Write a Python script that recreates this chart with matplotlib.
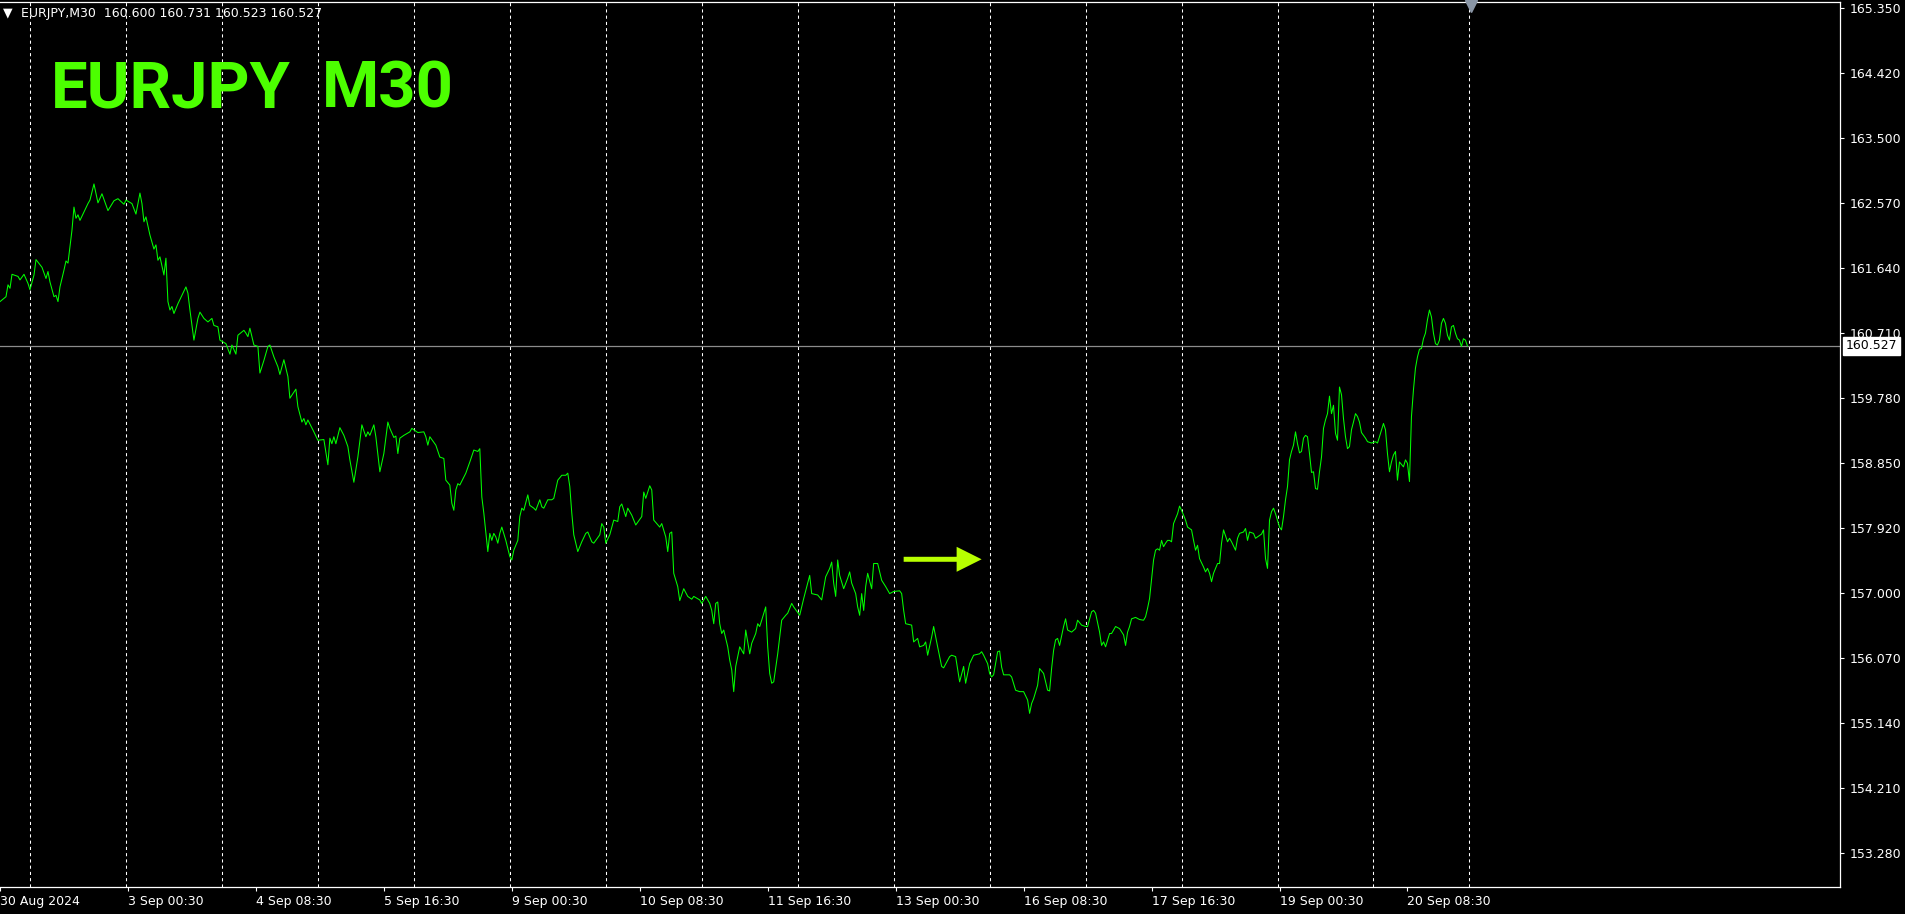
import matplotlib
matplotlib.use("Agg")
import matplotlib.pyplot as plt
from matplotlib.transforms import blended_transform_factory

symbol = "EURJPY"
timeframe = "M30"
last_ohlc = [160.600, 160.731, 160.523, 160.527]
last_price = 160.527

# M30 bar number counted from Mon 2 Sep 2024 00:00 (weekends skipped), close
bars_wk1 = [
    -15, -12, -11, -10, -9, -6, -5, -3, -1, 0,
    2, 3, 6, 8, 9, 10, 12, 13, 14, 15,
    17, 18, 19, 20, 21, 22, 23, 24, 25, 27,
    29, 30, 32, 34, 36, 39, 42, 44, 47, 48,
    51, 53, 55, 56, 57, 58, 60, 62, 63, 64,
    65, 67, 68, 69, 70, 71, 72, 74, 78, 79,
    80, 82, 84, 85, 87, 89, 91, 92, 94, 95,
    98, 100, 101, 103, 104, 107, 108, 109, 110, 112,
    114, 115, 117, 119, 120, 122, 124, 125, 127, 129,
    130, 133, 134, 136, 137, 138, 139, 142, 144, 147,
    149, 150, 151, 152, 153, 155, 157, 159, 160, 162,
    164, 166, 168, 169, 170, 172, 173, 175, 177, 179,
    180, 182, 183, 184, 185, 187, 190, 191, 194, 197,
    198, 199, 200, 203, 205, 207, 208, 210, 211, 212,
    213, 214, 215, 218, 220, 222, 224, 225, 226, 227,
    228, 229, 230, 231, 232, 233, 234, 235, 236, 238,
]
close_wk1 = [
    161.16, 161.23, 161.40, 161.35, 161.55, 161.52, 161.47, 161.55, 161.42, 161.33,
    161.54, 161.76, 161.65, 161.49, 161.59, 161.44, 161.23, 161.25, 161.16, 161.37,
    161.61, 161.74, 161.71, 161.94, 162.18, 162.51, 162.35, 162.40, 162.32, 162.44,
    162.56, 162.61, 162.84, 162.57, 162.70, 162.46, 162.60, 162.63, 162.55, 162.61,
    162.56, 162.41, 162.71, 162.56, 162.30, 162.37, 162.11, 161.91, 161.97, 161.75,
    161.80, 161.54, 161.78, 161.16, 161.04, 161.09, 160.99, 161.13, 161.37, 161.28,
    161.04, 160.61, 160.92, 161.01, 160.92, 160.87, 160.92, 160.82, 160.80, 160.61,
    160.56, 160.41, 160.54, 160.41, 160.68, 160.75, 160.71, 160.66, 160.78, 160.54,
    160.52, 160.14, 160.32, 160.52, 160.54, 160.37, 160.23, 160.12, 160.33, 160.09,
    159.78, 159.91, 159.66, 159.44, 159.49, 159.40, 159.47, 159.30, 159.18, 159.19,
    158.83, 159.21, 159.13, 159.23, 159.13, 159.36, 159.25, 159.09, 158.90, 158.58,
    158.94, 159.40, 159.23, 159.30, 159.25, 159.40, 159.23, 158.73, 158.99, 159.44,
    159.35, 159.22, 159.24, 158.99, 159.21, 159.25, 159.30, 159.35, 159.29, 159.30,
    159.23, 159.11, 159.23, 159.11, 158.94, 158.92, 158.61, 158.54, 158.28, 158.18,
    158.47, 158.56, 158.54, 158.71, 158.87, 159.04, 159.02, 159.06, 158.37, 158.14,
    157.87, 157.59, 157.85, 157.75, 157.85, 157.80, 157.71, 157.85, 157.94, 157.75,
]

bars_wk2 = [
    240, 241, 242, 244, 245, 246, 247, 249, 250, 252,
    253, 255, 256, 257, 259, 261, 262, 264, 266, 268,
    269, 270, 271, 272, 274, 276, 278, 279, 281, 282,
    285, 286, 287, 288, 290, 292, 294, 295, 296, 298,
    299, 301, 303, 306, 307, 308, 310, 311, 312, 315,
    316, 318, 319, 320, 321, 322, 324, 325, 327, 329,
    331, 332, 335, 336, 338, 340, 341, 342, 343, 344,
    345, 346, 347, 349, 350, 351, 352, 353, 354, 355,
    357, 358, 360, 361, 363, 364, 365, 366, 368, 369,
    370, 371, 372, 374, 376, 378, 379, 381, 382, 385,
    387, 389, 390, 391, 394, 396, 398, 400, 401, 402,
    403, 404, 405, 407, 409, 410, 411, 413, 414, 415,
    416, 417, 418, 419, 421, 422, 424, 426, 428, 430,
    432, 435, 436, 437, 438, 441, 442, 444, 445, 447,
    448, 449, 451, 452, 454, 456, 457, 460, 461, 463,
    465, 467, 468, 470, 472, 475, 476, 477, 479,
]
close_wk2 = [
    157.52, 157.47, 157.61, 157.75, 158.09, 158.21, 158.18, 158.40, 158.25, 158.21,
    158.18, 158.33, 158.23, 158.21, 158.33, 158.33, 158.35, 158.61, 158.68, 158.68,
    158.71, 158.52, 158.14, 157.83, 157.59, 157.73, 157.85, 157.87, 157.73, 157.71,
    157.83, 157.99, 157.94, 157.71, 157.83, 158.04, 158.02, 158.23, 158.27, 158.09,
    158.21, 158.11, 157.97, 158.09, 158.44, 158.35, 158.53, 158.47, 158.04, 157.94,
    157.99, 157.80, 157.59, 157.85, 157.87, 157.28, 157.09, 156.89, 157.06, 156.95,
    156.91, 156.95, 156.90, 156.85, 156.95, 156.85, 156.75, 156.56, 156.85, 156.87,
    156.56, 156.42, 156.47, 156.23, 156.04, 155.90, 155.59, 155.95, 156.09, 156.23,
    156.13, 156.47, 156.13, 156.28, 156.42, 156.56, 156.52, 156.61, 156.80, 156.23,
    155.85, 155.71, 155.73, 156.13, 156.61, 156.68, 156.71, 156.85, 156.80, 156.68,
    156.92, 157.14, 157.25, 156.99, 156.97, 156.90, 157.23, 157.35, 157.44, 157.14,
    156.95, 157.47, 157.25, 157.06, 157.21, 157.30, 157.14, 156.99, 156.80, 156.68,
    156.99, 156.75, 157.09, 157.28, 157.06, 157.42, 157.42, 157.18, 157.09, 156.99,
    157.02, 157.03, 156.99, 156.75, 156.56, 156.54, 156.30, 156.35, 156.23, 156.25,
    156.30, 156.11, 156.37, 156.52, 156.23, 155.95, 155.93, 156.09, 156.11, 156.09,
    155.73, 155.95, 155.71, 155.99, 156.11, 156.13, 156.16, 156.11, 155.99,
]

bars_wk3 = [
    480, 481, 482, 484, 485, 486, 487, 489, 490,
    491, 493, 495, 497, 499, 500, 501, 502, 504, 505,
    507, 509, 510, 511, 512, 513, 514, 515, 517, 518,
    519, 521, 523, 524, 526, 528, 529, 531, 532, 533,
    535, 536, 537, 538, 540, 541, 543, 545, 547, 548,
    549, 550, 551, 553, 555, 557, 558, 559, 560, 561,
    562, 563, 564, 565, 566, 567, 568, 569, 570, 571,
    572, 574, 575, 576, 578, 579, 581, 582, 583, 584,
    585, 587, 588, 589, 590, 591, 592, 594, 595, 596,
    597, 599, 600, 601, 603, 604, 605, 607, 608, 609,
    610, 612, 613, 614, 616, 617, 618, 619, 620, 621,
    622, 623, 625, 626, 627, 628, 629, 630, 631, 632,
    633, 634, 635, 636, 637, 638, 639, 640, 641, 642,
    643, 644, 645, 646, 647, 648, 649, 650, 651, 652,
    653, 654, 655, 656, 657, 658, 659, 660, 661, 662,
    663, 664, 665, 666, 668, 669, 671, 673, 674, 675,
    677, 678, 679, 680, 681, 682, 683, 684, 685, 687,
    688, 689, 690, 691, 692, 693, 694, 695, 696, 697,
    698, 699, 700, 701, 702, 703, 704, 705, 706, 707,
    708, 709, 710, 711, 712, 713, 714, 715, 716, 717,
    718, 719,
]
close_wk3 = [
    155.85, 155.80, 155.83, 156.16, 156.17, 155.94, 155.83, 155.83, 155.83,
    155.80, 155.61, 155.59, 155.59, 155.47, 155.28, 155.42, 155.49, 155.68, 155.92,
    155.85, 155.61, 155.60, 155.92, 156.18, 156.33, 156.35, 156.25, 156.52, 156.63,
    156.47, 156.44, 156.49, 156.61, 156.54, 156.52, 156.52, 156.73, 156.75, 156.71,
    156.44, 156.25, 156.30, 156.23, 156.42, 156.42, 156.52, 156.49, 156.40, 156.25,
    156.44, 156.52, 156.63, 156.65, 156.62, 156.61, 156.66, 156.78, 156.92, 157.20,
    157.47, 157.61, 157.63, 157.61, 157.75, 157.66, 157.71, 157.75, 157.75, 157.73,
    157.99, 158.13, 158.24, 158.18, 158.04, 157.94, 157.90, 157.75, 157.61, 157.68,
    157.49, 157.37, 157.30, 157.35, 157.28, 157.16, 157.28, 157.42, 157.42, 157.71,
    157.90, 157.73, 157.78, 157.73, 157.61, 157.78, 157.85, 157.87, 157.92, 157.75,
    157.87, 157.85, 157.78, 157.80, 157.84, 157.90, 157.49, 157.35, 158.04, 158.16,
    158.21, 158.13, 157.94, 157.90, 158.09, 158.33, 158.52, 158.90, 159.02, 159.11,
    159.30, 159.13, 159.00, 159.02, 159.21, 159.25, 159.23, 158.99, 158.72, 158.73,
    158.49, 158.48, 158.73, 158.94, 159.35, 159.47, 159.56, 159.81, 159.56, 159.68,
    159.28, 159.18, 159.94, 159.83, 159.49, 159.23, 159.06, 159.09, 159.33, 159.44,
    159.56, 159.52, 159.44, 159.29, 159.21, 159.16, 159.14, 159.16, 159.14, 159.23,
    159.42, 159.33, 158.99, 158.73, 158.87, 158.97, 159.02, 158.61, 158.87, 158.80,
    158.90, 158.85, 158.59, 159.52, 159.90, 160.21, 160.37, 160.48, 160.49, 160.63,
    160.71, 160.90, 161.04, 160.94, 160.71, 160.56, 160.54, 160.61, 160.85, 160.92,
    160.85, 160.68, 160.61, 160.80, 160.82, 160.71, 160.63, 160.61, 160.52, 160.63,
    160.61, 160.527,
]

assert len(bars_wk1) == len(close_wk1)
assert len(bars_wk2) == len(close_wk2)
assert len(bars_wk3) == len(close_wk3)

# day separators (one per trading day, 48 bars each) and time labels every 64 bars
day_starts = list(range(0, 721, 48))
label_bars = [-15 + 64 * k for k in range(12)]
label_text = ["30 Aug 2024", "3 Sep 00:30", "4 Sep 08:30", "5 Sep 16:30",
              "9 Sep 00:30", "10 Sep 08:30", "11 Sep 16:30", "13 Sep 00:30",
              "16 Sep 08:30", "17 Sep 16:30", "19 Sep 00:30", "20 Sep 08:30"]
price_ticks = [153.280, 154.210, 155.140, 156.070, 157.000, 157.920, 158.850,
               159.780, 160.710, 161.640, 162.570, 163.500, 164.420, 165.350]

# arrow object placed on the chart
arrow_from_bar, arrow_to_bar, arrow_price = 437, 476, 157.48

bars = bars_wk1 + bars_wk2 + bars_wk3
close = close_wk1 + close_wk2 + close_wk3

W, H = 1906, 914
fig = plt.figure(figsize=(W / 100, H / 100), dpi=100, facecolor="black")
ax = fig.add_axes([0, 27 / H, 1840 / W, 885.3 / H], facecolor="black")

for d in day_starts:
    ax.axvline(d, color="white", lw=0.75, ls=(0, (3, 3)), zorder=1)
ax.axhline(last_price, color="#8c8c8c", lw=0.9, zorder=1.5)
ax.plot(bars, close, color="#00ff00", lw=0.75, zorder=2)

ax.set_xlim(-14.65, 905.35)
ax.set_ylim(152.80, 165.443)

ax.set_xticks(label_bars, labels=label_text)
for lab in ax.get_xticklabels():
    lab.set_horizontalalignment("left")
ax.yaxis.tick_right()
ax.set_yticks(price_ticks, labels=[f"{p:.3f}" for p in price_ticks])
ax.tick_params(axis="both", colors="white", labelcolor="white", length=3,
               width=0.8, labelsize=9)
ax.tick_params(axis="x", pad=3)
ax.tick_params(axis="y", pad=4)

for side in ["top", "right", "bottom"]:
    ax.spines[side].set_color("white")
    ax.spines[side].set_linewidth(0.9)
ax.spines["left"].set_visible(False)

# current price tag on the price scale
ax.annotate(f"{last_price:.3f}", xy=(1, last_price),
            xycoords=("axes fraction", "data"), xytext=(4.2, 0),
            textcoords="offset points", ha="left", va="center",
            fontsize=9, color="black", annotation_clip=False, zorder=5,
            bbox=dict(boxstyle="square,pad=0.22", fc="white", ec="white"))

# chart shift marker at the top
trans = blended_transform_factory(ax.transData, ax.transAxes)
ax.plot([bars[-1] + 2], [1 - 4.5 / 885], marker="v", ms=8, color="#8a96a6",
        transform=trans, clip_on=False, zorder=6)

# arrow object
ax.annotate("", xy=(arrow_to_bar, arrow_price), xytext=(arrow_from_bar, arrow_price),
            arrowprops=dict(arrowstyle="simple,head_length=1.0,head_width=1.0,tail_width=0.2",
                            mutation_scale=18, color="#b8ff00", lw=0,
                            shrinkA=0, shrinkB=0), zorder=4)

# header line
fig.text(3 / W, 1 - 13 / H, "\u25bc", color="white", fontsize=9, va="center", ha="left")
fig.text(21 / W, 1 - 13 / H,
         f"{symbol},{timeframe}  " + " ".join(f"{v:.3f}" for v in last_ohlc),
         color="white", fontsize=9, va="center", ha="left")

# big label
title_font = ["Liberation Sans Narrow", "Roboto", "DejaVu Sans"]
fig.text(51 / W, 1 - 108 / H, symbol, color="#4cff00", fontsize=47,
         fontweight="bold", family=title_font, va="baseline", ha="left")
fig.text(322 / W, 1 - 108 / H, timeframe, color="#4cff00", fontsize=47,
         fontweight="bold", family=title_font, va="baseline", ha="left")

fig.savefig("out.png", dpi=100, facecolor="black")
